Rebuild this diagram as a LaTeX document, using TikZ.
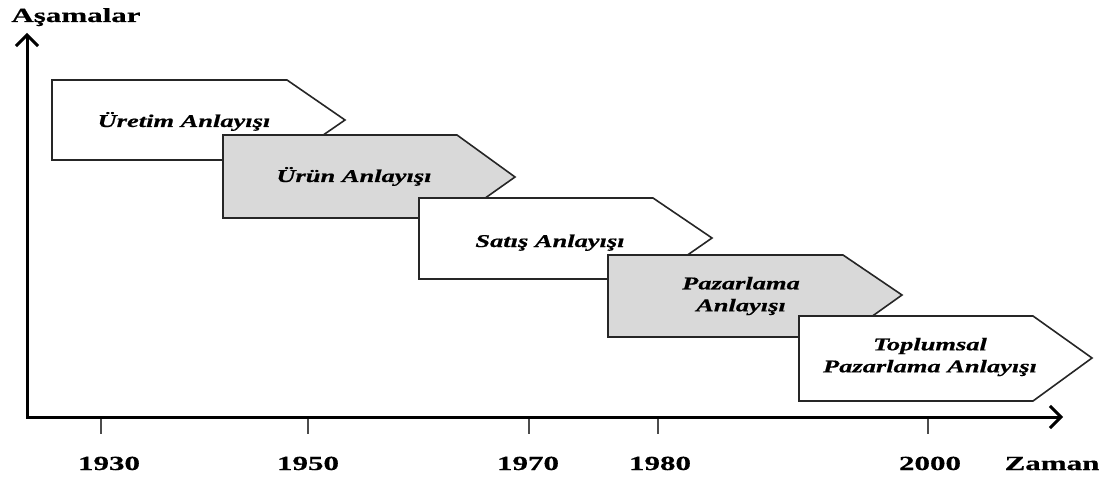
\documentclass[tikz,border=0pt]{standalone}
\usepackage{fontspec}
\setmainfont{Liberation Serif}
\newfontfamily\boxfont[FakeStretch=1.47,FakeBold=0.6]{Liberation Serif}
\newfontfamily\labfont[FakeStretch=1.55,FakeBold=0.6]{Liberation Serif}
\usetikzlibrary{arrows.meta}
\begin{document}
\begin{tikzpicture}[x=1pt,y=-1pt,
  stage/.style={draw=black!85,line width=1.6pt,line join=miter},
  plainstage/.style={stage,fill=white},
  shadedstage/.style={stage,fill=gray!30},
  boxtext/.style={font=\boxfont\bfseries\itshape\fontsize{18}{22}\selectfont,align=center,inner sep=0pt},
  axlabel/.style={font=\labfont\bfseries\fontsize{20}{24}\selectfont,inner sep=0pt,anchor=base},
  axisline/.style={line width=3pt,black,line join=miter},
  tickline/.style={line width=2.2pt,black!70},
  barb/.tip={Straight Barb[length=11pt,width=22pt]}
]
\useasboundingbox (0,0) rectangle (1107,481);

% stages
\path[plainstage] (52,80) -- (287,80) -- (345,120) -- (287,160) -- (52,160) -- cycle;
\node[boxtext,anchor=base] (t1) at (184,127) {Üretim Anlayışı};

\path[shadedstage] (223,135) -- (457,135) -- (515,177) -- (457,218) -- (223,218) -- cycle;
\node[boxtext,anchor=base] (t2) at (354,182) {Ürün Anlayışı};

\path[plainstage] (419,198) -- (653,198) -- (712,238) -- (653,279) -- (419,279) -- cycle;
\node[boxtext,anchor=base] (t3) at (550,247) {Satış Anlayışı};

\path[shadedstage] (608,255) -- (843,255) -- (902,295) -- (843,337) -- (608,337) -- cycle;
\node[boxtext] (t4) at (741,296) {Pazarlama\\Anlayışı};

\path[plainstage] (799,316) -- (1033,316) -- (1092,358) -- (1033,401) -- (799,401) -- cycle;
\node[boxtext] (t5) at (930,357) {Toplumsal\\Pazarlama Anlayışı};

% axes
\coordinate (ytip) at (27,33);
\coordinate (orig) at (27,417);
\coordinate (xtip) at (1063,417);
\draw[axisline,barb-barb] (ytip) -- (orig) -- (xtip);

% ticks and labels
\foreach \tx/\lx/\yr in {101/109/1930,308/308/1950,529/528/1970,658/660/1980,928/930/2000}{
  \coordinate (tk\yr a) at (\tx,419);
  \coordinate (tk\yr b) at (\tx,434);
  \draw[tickline] (tk\yr a) -- (tk\yr b);
  \node[axlabel] (lab\yr) at (\lx,470) {\yr};
}
\node[axlabel] (zaman) at (1052,470) {Zaman};
\node[axlabel] (asama) at (76,22) {Aşamalar};
\end{tikzpicture}
\end{document}
